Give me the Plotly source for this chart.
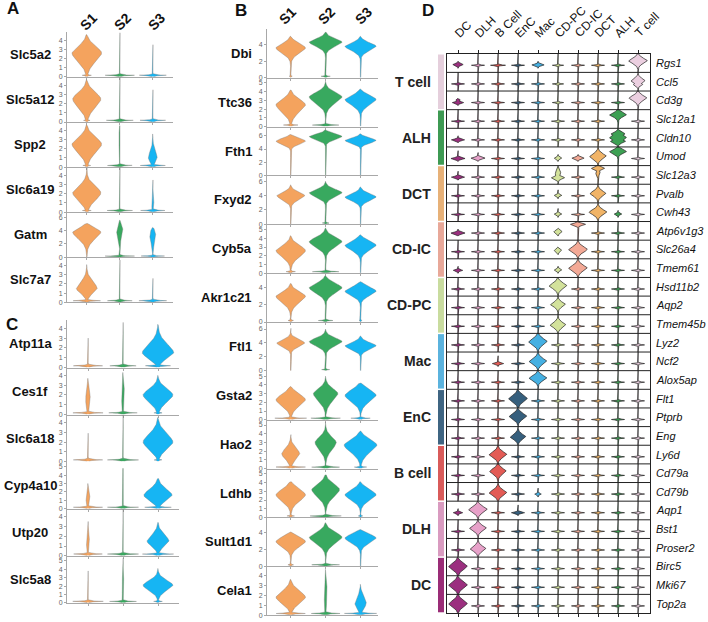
import numpy as np
import plotly.graph_objects as go

W, H = 708, 622
FONT = "Arial, Liberation Sans, sans-serif"


def px(x):
    return x / W


def py(y):
    return 1 - y / H


# ---------------- data ----------------
SAMPLES = ["S1", "S2", "S3"]
SAMPLE_COLORS = ["#F4A35E", "#38A95F", "#16B5F3"]

# violin spec: (mode, body_width, spread_below, spread_above, top, zero_bump_width)
A_genes = ["Slc5a2", "Slc5a12", "Spp2", "Slc6a19", "Gatm", "Slc7a7"]
A_ymax = [4.9, 4.9, 4.9, 4.9, 6.8, 4.9]
A_ticks = [[0, 1, 2, 3, 4]] * 4 + [[0, 2, 4, 6]] + [[0, 1, 2, 3, 4]]
A_S1 = [(2.6, 1.0, 0.9, 0.7, 4.6, 0.35), (2.5, 0.95, 0.9, 0.7, 4.6, 0.25),
        (2.5, 1.0, 0.9, 0.7, 4.6, 0.3), (2.1, 0.95, 0.8, 0.7, 4.8, 0.3),
        (3.8, 0.95, 1.0, 0.55, 5.1, 0.0), (1.5, 0.7, 0.5, 0.7, 4.1, 1.0)]
A_S2 = [(0, 0, 1, 1, 4.8, 1.0), (0, 0, 1, 1, 4.9, 0.95),
        (3.0, 0.06, 1.0, 1.0, 4.5, 1.0), (0, 0, 1, 1, 4.9, 0.9),
        (4.0, 0.22, 0.9, 0.7, 5.6, 1.0), (0, 0, 1, 1, 4.6, 0.95)]
A_S3 = [(0, 0, 1, 1, 3.5, 1.0), (0, 0, 1, 1, 3.5, 0.95),
        (1.0, 0.3, 0.45, 0.7, 3.6, 0.95), (0.8, 0.08, 0.3, 0.5, 3.5, 0.9),
        (3.2, 0.2, 1.0, 0.9, 4.5, 0.95), (0, 0, 1, 1, 2.6, 0.95)]

C_genes = ["Atp11a", "Ces1f", "Slc6a18", "Cyp4a10", "Utp20", "Slc5a8"]
C_ymax = [4.8, 4.8, 4.8, 5.6, 4.8, 5.6]
C_ticks = [[0, 1, 2, 3, 4]] * 3 + [[0, 1, 2, 3, 4, 5]] + [[0, 1, 2, 3, 4]] + [[0, 1, 2, 3, 4, 5]]
C_S1 = [(0, 0, 1, 1, 3.0, 1.0), (1.5, 0.15, 0.7, 0.9, 3.7, 1.0),
        (0, 0, 1, 1, 2.9, 1.0), (1.2, 0.13, 0.5, 0.6, 3.0, 1.0),
        (1.3, 0.1, 0.5, 0.7, 3.5, 1.0), (0, 0, 1, 1, 3.8, 1.0)]
C_S2 = [(0, 0, 1, 1, 4.6, 0.95), (2.0, 0.1, 1.0, 1.0, 4.3, 0.95),
        (0, 0, 1, 1, 4.8, 1.0), (2.0, 0.06, 1.0, 1.0, 4.8, 1.0),
        (0, 0, 1, 1, 4.8, 1.0), (2.0, 0.06, 1.0, 1.0, 5.3, 1.0)]
C_S3 = [(1.5, 1.0, 0.55, 0.85, 4.4, 0.9), (2.0, 0.95, 0.7, 0.6, 4.0, 0.3),
        (2.0, 0.95, 0.7, 0.8, 4.5, 0.3), (1.6, 0.9, 0.6, 0.7, 3.6, 0.95),
        (1.5, 0.7, 0.5, 0.6, 3.4, 1.0), (2.1, 0.95, 0.6, 0.55, 4.1, 0.3)]

B_genes = ["Dbi", "Ttc36", "Fth1", "Fxyd2", "Cyb5a", "Akr1c21",
           "Ftl1", "Gsta2", "Hao2", "Ldhb", "Sult1d1", "Cela1"]
B_ymax = [5.9, 5.6, 7.4, 6.8, 5.6, 5.7, 7.0, 5.6, 5.6, 5.6, 5.7, 4.9]
T5 = [0, 1, 2, 3, 4, 5]
B_ticks = [[0, 2, 4], T5, [0, 2, 4, 6], [0, 2, 4, 6], T5, [0, 2, 4],
           [0, 2, 4, 6], T5, T5, T5, [0, 2, 4], [0, 1, 2, 3, 4]]
B_S1 = [(3.6, 0.9, 0.6, 0.5, 5.0, 0.1), (2.5, 0.9, 0.8, 0.6, 4.2, 0.45),
        (5.2, 0.9, 0.45, 0.4, 6.2, 0.0), (4.0, 0.85, 0.55, 0.45, 5.5, 0.0),
        (2.6, 0.9, 0.7, 0.55, 4.3, 0.3), (3.0, 0.9, 0.7, 0.5, 4.5, 0.2),
        (4.0, 0.85, 0.5, 0.45, 6.1, 0.0), (2.3, 0.9, 0.7, 0.6, 3.8, 1.0),
        (1.7, 0.55, 0.6, 0.6, 3.9, 1.0), (2.6, 0.9, 0.7, 0.6, 4.1, 0.25),
        (2.9, 0.9, 0.6, 0.5, 4.0, 0.2), (1.8, 0.9, 0.6, 0.6, 3.6, 1.0)]
B_S2 = [(4.3, 1.0, 0.5, 0.4, 5.5, 0.3), (3.4, 1.0, 0.7, 0.5, 5.2, 1.0),
        (5.9, 1.0, 0.45, 0.35, 6.9, 0.0), (4.4, 1.0, 0.55, 0.45, 6.0, 0.25),
        (3.6, 1.0, 0.6, 0.5, 5.2, 1.0), (4.0, 1.0, 0.6, 0.5, 5.4, 0.5),
        (4.2, 1.0, 0.6, 0.5, 6.0, 0.3), (3.0, 0.75, 0.8, 0.55, 5.0, 1.0),
        (3.0, 0.65, 0.8, 0.6, 5.3, 1.0), (3.2, 0.85, 0.8, 0.6, 4.9, 1.0),
        (3.4, 1.0, 0.7, 0.55, 5.1, 1.0), (2.2, 0.1, 1.0, 1.0, 4.6, 1.0)]
B_S3 = [(3.8, 0.95, 0.5, 0.4, 5.0, 0.0), (3.1, 0.95, 0.6, 0.45, 4.3, 0.0),
        (5.3, 0.95, 0.4, 0.35, 6.3, 0.0), (3.8, 0.95, 0.5, 0.45, 5.2, 0.0),
        (3.2, 0.95, 0.55, 0.45, 4.4, 0.0), (3.6, 0.95, 0.5, 0.45, 4.7, 0.1),
        (3.6, 0.95, 0.5, 0.45, 5.0, 0.0), (2.8, 0.95, 0.7, 0.6, 4.2, 0.6),
        (2.7, 1.0, 0.8, 0.6, 4.3, 0.4), (2.6, 0.95, 0.6, 0.55, 4.1, 0.15),
        (3.3, 0.95, 0.55, 0.45, 4.3, 0.0), (1.2, 0.35, 0.5, 0.6, 3.1, 1.0)]

# Panel D
D_types = ["DC", "DLH", "B Cell", "EnC", "Mac", "CD-PC", "CD-IC", "DCT", "ALH", "T cell"]
D_colors = ["#9B2F7F", "#E7A1C9", "#E35B55", "#365F7D", "#45B0E2",
            "#D3E29B", "#F3A996", "#F1B467", "#3DA053", "#EBCFE0"]
D_groups = ["T cell", "ALH", "DCT", "CD-IC", "CD-PC", "Mac", "EnC", "B cell", "DLH", "DC"]
D_group_colors = ["#E5CFDC", "#3E9A53", "#E7B178", "#E8A899", "#C9DC9F",
                  "#5BB3DE", "#3F6582", "#D95B5A", "#D99BC0", "#9A2D77"]
D_genes = ["Rgs1", "Ccl5", "Cd3g", "Slc12a1", "Cldn10", "Umod", "Slc12a3", "Pvalb",
           "Cwh43", "Atp6v1g3", "Slc26a4", "Tmem61", "Hsd11b2", "Aqp2", "Tmem45b",
           "Lyz2", "Ncf2", "Alox5ap", "Flt1", "Ptprb", "Eng", "Ly6d", "Cd79a",
           "Cd79b", "Aqp1", "Bst1", "Proser2", "Birc5", "Mki67", "Top2a"]
# zero-spike width (digit/10) and tail top (digit/10, 9 = through whole row)
D_spike = ["0787067770", "7777767770", "0777767770", "7777777707", "0777777707",
           "0077700007", "0777707077", "7777707077", "7777707007", "0777700777",
           "7777700777", "0777700777", "7777707777", "7777707777", "7777707777",
           "7777077777", "7707077777", "7777077777", "7770777777", "7770777777",
           "7770777777", "7707777777", "7707777777", "7707077777", "0070777777",
           "7077777777", "7077777777", "0777777777", "0777777777", "0777777777"]
D_tail = ["6666666669", "7777666779", "6766666669", "6766666696", "6766666796",
          "8766666996", "7766696966", "6666676966", "6666676966", "6766669666",
          "6666669666", "6766669676", "6766696666", "6666696666", "6766596766",
          "6667966666", "6687966666", "6677966666", "6669666666", "6669666666",
          "6689666666", "6696676666", "6696666666", "6696766666", "6908666666",
          "6966676666", "6966666666", "9666666666", "9676766666", "9666666666"]
# expressed bodies: (gene row, cell type column, centre, width, spread)
D_body = [(0, 0, 0.42, 0.55, 0.07), (0, 4, 0.40, 0.65, 0.06), (0, 9, 0.62, 1.0, 0.2),
          (1, 9, 0.55, 0.75, 0.18), (1, 9, 0.35, 0.5, 0.1),
          (2, 0, 0.38, 0.6, 0.06), (2, 0, 0.52, 0.25, 0.06), (2, 9, 0.62, 0.95, 0.2),
          (3, 8, 0.72, 0.9, 0.16),
          (4, 0, 0.38, 0.7, 0.06), (4, 8, 0.5, 0.9, 0.2), (4, 8, 0.7, 0.75, 0.12), (4, 8, 0.3, 0.8, 0.12),
          (5, 0, 0.38, 0.75, 0.06), (5, 1, 0.4, 0.75, 0.07), (5, 5, 0.4, 0.4, 0.07),
          (5, 6, 0.4, 0.65, 0.07), (5, 7, 0.5, 0.9, 0.2), (5, 8, 0.75, 0.9, 0.15),
          (6, 0, 0.38, 0.7, 0.06), (6, 5, 0.35, 0.7, 0.1), (6, 5, 0.6, 0.3, 0.2),
          (6, 7, 0.85, 0.7, 0.1), (6, 7, 0.6, 0.25, 0.15),
          (7, 5, 0.4, 0.4, 0.06), (7, 7, 0.5, 0.85, 0.2),
          (8, 5, 0.4, 0.4, 0.06), (8, 7, 0.5, 0.95, 0.2), (8, 8, 0.4, 0.4, 0.06),
          (9, 0, 0.38, 0.75, 0.07), (9, 5, 0.45, 0.45, 0.1), (9, 6, 0.85, 0.8, 0.08),
          (10, 5, 0.45, 0.4, 0.1), (10, 6, 0.5, 1.0, 0.22),
          (11, 0, 0.38, 0.5, 0.05), (11, 5, 0.4, 0.4, 0.07), (11, 6, 0.5, 1.0, 0.22),
          (12, 5, 0.55, 0.95, 0.22), (13, 5, 0.55, 0.8, 0.18), (14, 5, 0.45, 0.85, 0.2),
          (15, 4, 0.55, 1.0, 0.24), (16, 2, 0.38, 0.6, 0.05), (16, 4, 0.5, 0.95, 0.22),
          (17, 4, 0.6, 0.95, 0.2), (18, 3, 0.5, 1.0, 0.25), (19, 3, 0.55, 0.95, 0.22),
          (20, 3, 0.45, 0.85, 0.2), (21, 2, 0.5, 0.95, 0.22), (22, 2, 0.6, 0.9, 0.22),
          (23, 2, 0.45, 0.95, 0.22), (23, 4, 0.38, 0.35, 0.05),
          (24, 0, 0.38, 0.5, 0.05), (24, 1, 0.55, 1.0, 0.22), (24, 3, 0.38, 0.7, 0.05),
          (25, 1, 0.55, 0.9, 0.2), (26, 1, 0.45, 0.85, 0.2),
          (27, 0, 0.5, 1.0, 0.25), (28, 0, 0.5, 1.0, 0.25), (29, 0, 0.5, 1.0, 0.25)]

# ---------------- helpers ----------------
fig = go.Figure()
layout = {}
annotations = []
shapes = []

SPREAD_SCALE = 1.5   # kernel-smoothing bandwidth factor for the drawn outline
SHAPE_POWER = 1.8


def violin_profile(spec, n=240):
    mode, w, slo, shi, top, w0 = spec
    y = np.linspace(0.04, top, n)
    d = y - mode
    s = np.where(d < 0, slo, shi) * SPREAD_SCALE
    body = w * np.exp(-(np.abs(d) / s) ** SHAPE_POWER)
    body = np.minimum(body, np.clip((top - y) / 0.5, 0, 1) * max(w, 0.012) + 0.012)
    bump = w0 * np.exp(-np.abs(y - 0.18) / 0.05)
    width = np.maximum(np.maximum(body, bump), 0.012)
    return y, width


def add_panel(genes, specs, ymaxes, ticks, x0, x1, xrange, top, row_h, k0, hw):
    for i, g in enumerate(genes):
        k = k0 + i
        xa = "xaxis" if k == 1 else f"xaxis{k}"
        ya = "yaxis" if k == 1 else f"yaxis{k}"
        xr = "x" if k == 1 else f"x{k}"
        yr = "y" if k == 1 else f"y{k}"
        t = top + i * row_h
        b = t + row_h
        layout[xa] = dict(domain=[px(x0), px(x1)], range=xrange, anchor=yr,
                          showline=True, linecolor="#a8a8a8", linewidth=1,
                          ticks="outside", ticklen=2, tickcolor="#a8a8a8",
                          tickvals=[1, 2, 3], showticklabels=False,
                          showgrid=False, zeroline=False)
        layout[ya] = dict(domain=[py(b), py(t)], range=[0, ymaxes[i]], anchor=xr,
                          showline=True, linecolor="#a8a8a8", linewidth=1,
                          ticks="outside", ticklen=2, tickcolor="#a8a8a8",
                          tickvals=ticks[i], tickfont=dict(size=7, color="#666", family=FONT),
                          showgrid=False, zeroline=False)
        for j in range(3):
            y, wd = violin_profile(specs[j][i])
            c = j + 1
            xs = np.concatenate([c + hw * wd, (c - hw * wd)[::-1]])
            ys = np.concatenate([y, y[::-1]])
            fig.add_trace(go.Scatter(x=xs, y=ys, fill="toself", mode="lines",
                                     fillcolor=SAMPLE_COLORS[j],
                                     line=dict(color="rgba(120,120,120,0.75)", width=0.5),
                                     xaxis=xr, yaxis=yr, hoverinfo="skip", showlegend=False))
        annotations.append(dict(text=f"<b>{g}</b>", x=px(label_x[k0]), y=py(t + row_h / 2),
                                xref="paper", yref="paper", showarrow=False,
                                xanchor=label_anchor[k0], yanchor="middle",
                                font=dict(size=13, family=FONT, color="#111")))


label_x = {1: 30, 7: 30, 13: 254}
label_anchor = {1: "center", 7: "center", 13: "right"}

# Panel A
add_panel(A_genes, [A_S1, A_S2, A_S3], A_ymax, A_ticks, 67, 172.6, [0.4, 3.6], 32, 45.3, 1, 0.45)
# Panel C
add_panel(C_genes, [C_S1, C_S2, C_S3], C_ymax, C_ticks, 67, 179, [0.4, 3.6], 322, 47.3, 7, 0.45)
# Panel B
add_panel(B_genes, [B_S1, B_S2, B_S3], B_ymax, B_ticks, 267, 378, [0.32, 3.5], 29, 49.1, 13, 0.47)

# sample headers
for j, s in enumerate(SAMPLES):
    for (cx, cy) in [([88, 122, 156][j], 22), ([287, 326, 363][j], 16)]:
        annotations.append(dict(text=f"<b>{s}</b>", x=px(cx), y=py(cy), xref="paper", yref="paper",
                                showarrow=False, textangle=-45, xanchor="center", yanchor="middle",
                                font=dict(size=14, family=FONT, color="#111")))

# panel letters
for letter, (lx, ly) in zip("ABCD", [(13, 9), (241, 11), (12, 326), (428, 11)]):
    annotations.append(dict(text=f"<b>{letter}</b>", x=px(lx), y=py(ly), xref="paper", yref="paper",
                            showarrow=False, xanchor="center", yanchor="middle",
                            font=dict(size=17, family=FONT, color="#111")))

# ---------------- Panel D ----------------
kD = 25
nG = len(D_genes)
DX0, DX1, DY0, DY1 = 447, 650, 54, 616
XR = [0.45, 10.6]
layout[f"xaxis{kD}"] = dict(domain=[px(DX0), px(DX1)], range=XR, anchor=f"y{kD}",
                            showline=True, linecolor="#222", linewidth=1, mirror="ticks",
                            ticks="outside", ticklen=3, tickcolor="#222",
                            tickvals=list(range(1, 11)), showticklabels=False,
                            showgrid=False, zeroline=False)
layout[f"yaxis{kD}"] = dict(domain=[py(DY1), py(DY0)], range=[0, nG], anchor=f"x{kD}",
                            showline=True, linecolor="#222", linewidth=1, mirror=True,
                            showticklabels=False, ticks="", showgrid=False, zeroline=False)

bodies = {}
for (r, c, mu, w, s) in D_body:
    bodies.setdefault((r, c), []).append((mu, w, s))

yy = np.linspace(0.0, 1.0, 300)
DHW = 0.47
TAIL_W = 0.015
for c, ct in enumerate(D_types):
    X, Y = [], []
    for r in range(nG):
        base = nG - 1 - r
        sw = int(D_spike[r][c]) / 10
        td = int(D_tail[r][c])
        tb, tt = (0.0, 1.0) if td == 9 else (0.22, td / 10)
        wd = np.where((yy >= tb) & (yy <= tt), TAIL_W, 0.0)
        if sw > 0:
            wd = np.maximum(wd, sw * np.exp(-((yy - 0.38) / 0.025) ** 2))
        for (mu, w, s) in bodies.get((r, c), []):
            bd = w * np.exp(-(np.abs(yy - mu) / s) ** 1.6)
            wd = np.maximum(wd, np.where(bd > 0.03, bd, 0))
        nz = np.nonzero(wd > 0)[0]
        a, b = nz[0], nz[-1]
        seg_y = yy[a:b + 1]
        seg_w = np.maximum(wd[a:b + 1], TAIL_W)
        xs = np.concatenate([c + 1 + DHW * seg_w, (c + 1 - DHW * seg_w)[::-1]])
        ys = np.concatenate([seg_y, seg_y[::-1]]) + base
        X += list(xs) + [None]
        Y += list(ys) + [None]
    fig.add_trace(go.Scatter(x=X, y=Y, fill="toself", mode="lines", fillcolor=D_colors[c],
                             line=dict(color="#222", width=0.7), xaxis=f"x{kD}", yaxis=f"y{kD}",
                             hoverinfo="skip", showlegend=False))

# row separators
for r in range(1, nG):
    shapes.append(dict(type="line", xref="paper", yref=f"y{kD}", x0=px(DX0), x1=px(DX1),
                       y0=r, y1=r, line=dict(color="#222", width=1)))

# gene labels
for r, g in enumerate(D_genes):
    annotations.append(dict(text=f"<i>{g}</i>", x=px(654), y=nG - 1 - r + 0.5, xref="paper",
                            yref=f"y{kD}", showarrow=False, xanchor="left", yanchor="middle",
                            font=dict(size=11, family=FONT, color="#111")))

# cell type headers (placed in paper coords derived from the D x-axis scale)
unit_px = (DX1 - DX0) / (XR[1] - XR[0])
for c, ct in enumerate(D_types):
    cx = DX0 + (c + 1 - XR[0]) * unit_px
    annotations.append(dict(text=ct, x=px(cx - 9), y=py(43), xref="paper", yref="paper",
                            showarrow=False, textangle=-45, xanchor="left", yanchor="bottom",
                            font=dict(size=12, family=FONT, color="#111")))

# group bars & labels
for gi, (gname, gcol) in enumerate(zip(D_groups, D_group_colors)):
    top = nG - 3 * gi
    shapes.append(dict(type="rect", xref="paper", yref=f"y{kD}", x0=px(438), x1=px(444),
                       y0=top - 3 + 0.04, y1=top - 0.04, fillcolor=gcol, line=dict(width=0)))
    annotations.append(dict(text=f"<b>{gname}</b>", x=px(433), y=top - 1.5, xref="paper",
                            yref=f"y{kD}", showarrow=False, xanchor="right", yanchor="middle",
                            font=dict(size=14, family=FONT, color="#222")))

fig.update_layout(width=W, height=H, margin=dict(l=0, r=0, t=0, b=0),
                  paper_bgcolor="white", plot_bgcolor="white",
                  annotations=annotations, shapes=shapes, **layout)
fig.write_html("out.html", config={"displayModeBar": False},
               post_script="document.body.style.margin='0px';")
